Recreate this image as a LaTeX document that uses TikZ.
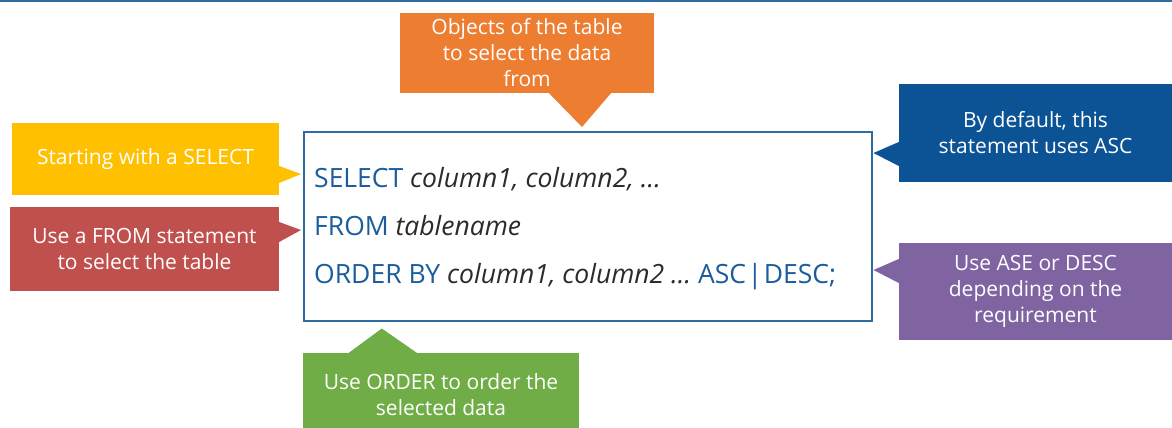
\documentclass[tikz,border=0pt]{standalone}
\usepackage{fontspec}
\setmainfont{Open Sans}
\usetikzlibrary{calc}
\definecolor{cline}{HTML}{2E6DA4}
\definecolor{ckw}{HTML}{1B5C9C}
\definecolor{cit}{HTML}{2B2B2B}
\definecolor{cyel}{HTML}{FFC000}
\definecolor{cred}{HTML}{C0504D}
\definecolor{corg}{HTML}{ED7D31}
\definecolor{cblu}{HTML}{0B5394}
\definecolor{cpur}{HTML}{8064A2}
\definecolor{cgrn}{HTML}{70AD47}
\begin{document}
\begin{tikzpicture}[x=1pt,y=-1pt,
  callout/.style={draw=none, inner sep=0pt, align=center, text=white,
    font=\fontsize{21}{26}\selectfont, anchor=center},
  codeline/.style={anchor=base west, inner sep=0pt, font=\fontsize{26.5}{32}\selectfont},
]
\useasboundingbox (0,0) rectangle (1172,428);
\fill[cline] (0,0) rectangle (1172,2);

% main code box
\node[draw=cline, line width=1.5pt, minimum width=568pt, minimum height=189pt,
  inner sep=0pt, anchor=north west] (code) at (303,131) {};
\node[codeline] (l1) at (314,187) {\textcolor{ckw}{SELECT} \textcolor{cit}{\itshape column1, column2, …}};
\node[codeline] (l2) at (314,235) {\textcolor{ckw}{FROM} \textcolor{cit}{\itshape tablename}};
\node[codeline] (l3) at (314,283) {\textcolor{ckw}{ORDER BY} \textcolor{cit}{\itshape column1, column2 …} \textcolor{ckw}{ASC\kern1.5pt|\kern1.5pt DESC;}};

% callouts
\node[callout, fill=cyel, minimum width=267pt, minimum height=72pt] (ysel) at (145.5,159) {Starting with a SELECT};
\node[callout, fill=cred, minimum width=269pt, minimum height=84pt] (rfrom) at (144.5,249) {Use a FROM statement\\to select the table};
\node[callout, fill=corg, minimum width=254pt, minimum height=80pt] (oobj) at (527,53) {Objects of the table\\to select the data\\from};
\node[callout, fill=cblu, minimum width=273pt, minimum height=98pt] (bdef) at (1035.5,133) {By default, this\\statement uses ASC};
\node[callout, fill=cpur, minimum width=273pt, minimum height=97pt] (pase) at (1035.5,291.5) {Use ASE or DESC\\depending on the\\requirement};
\node[callout, fill=cgrn, minimum width=276pt, minimum height=84pt] (gord) at (441,395) {Use ORDER to order the\\selected data};

% pointers
\fill[cyel] ($(ysel.east)+(0,7)$) -- ($(code.west |- ysel.east)+(-2,15)$) -- ($(ysel.east)+(0,24)$) -- cycle;
\fill[cred] ($(rfrom.east)+(0,-27)$) -- ($(code.west |- rfrom.east)+(-2,-19)$) -- ($(rfrom.east)+(0,-7)$) -- cycle;
\fill[corg] ($(oobj.south)+(22,0)$) -- ($(code.north -| oobj.south)+(55,-4)$) -- ($(oobj.south)+(84,0)$) -- cycle;
\fill[cblu] ($(bdef.west)+(0,9)$) -- ($(code.east |- bdef.west)+(1,20)$) -- ($(bdef.west)+(0,33)$) -- cycle;
\fill[cpur] ($(pase.west)+(0,-32.5)$) -- ($(code.east |- pase.west)+(1,-21.5)$) -- ($(pase.west)+(0,-8.5)$) -- cycle;
\fill[cgrn] ($(gord.north west)+(46,0)$) -- ($(code.south -| gord.north west)+(79,7)$) -- ($(gord.north west)+(114,0)$) -- cycle;
\end{tikzpicture}
\end{document}
